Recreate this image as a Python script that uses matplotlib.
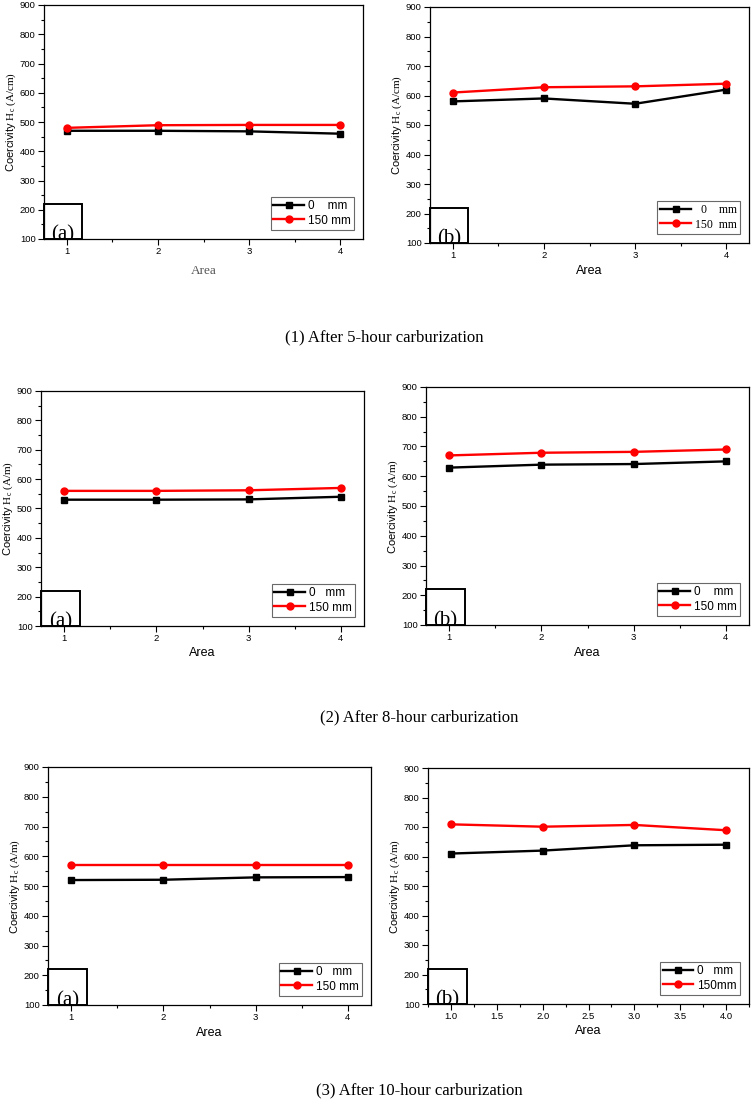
import numpy as np
import matplotlib
matplotlib.use('Agg')
import matplotlib.pyplot as plt
from matplotlib.patches import Rectangle

plt.rcParams['font.family'] = ['Liberation Sans', 'DejaVu Sans']
plt.rcParams['mathtext.fontset'] = 'custom'
plt.rcParams['mathtext.rm'] = 'Liberation Serif'
plt.rcParams['mathtext.it'] = 'Liberation Serif:italic'

areas = [1, 2, 3, 4]

# 5-hour carburization
h5a_0 = [470, 470, 468, 460]
h5a_150 = [480, 489, 490, 490]
h5b_0 = [580, 590, 572, 620]
h5b_150 = [610, 628, 631, 640]
# 8-hour carburization
h8a_0 = [530, 530, 531, 540]
h8a_150 = [560, 560, 562, 570]
h8b_0 = [629, 639, 641, 650]
h8b_150 = [670, 679, 682, 690]
# 10-hour carburization
h10a_0 = [520, 521, 529, 530]
h10a_150 = [570, 570, 570, 570]
h10b_0 = [610, 620, 638, 640]
h10b_150 = [709, 701, 707, 689]

captions = ['(1) After 5-hour carburization',
            '(2) After 8-hour carburization',
            '(3) After 10-hour carburization']

W, H = 754, 1109
fig = plt.figure(figsize=(W/100, H/100), dpi=100)

def px_axes(l, r, t, b):
    return fig.add_axes([l/W, 1-b/H, (r-l)/W, (b-t)/H])

# pixel boxes (left, right, top, bottom) and per-panel styling
panels = [
    dict(box=(44, 363, 5, 239), d0=h5a_0, d150=h5a_150, tag='(a)', unit='A/cm',
         lab0='0    mm', lab150='150 mm', legserif=False, xserif=True, half=False),
    dict(box=(430, 749, 7, 243), d0=h5b_0, d150=h5b_150, tag='(b)', unit='A/cm',
         lab0='  0    mm', lab150='150  mm', legserif=True, xserif=False, half=False),
    dict(box=(41, 364, 391, 626), d0=h8a_0, d150=h8a_150, tag='(a)', unit='A/m',
         lab0='0   mm', lab150='150 mm', legserif=False, xserif=False, half=False),
    dict(box=(426, 749, 387, 625), d0=h8b_0, d150=h8b_150, tag='(b)', unit='A/m',
         lab0='0    mm', lab150='150 mm', legserif=False, xserif=False, half=False),
    dict(box=(48, 371, 767, 1005), d0=h10a_0, d150=h10a_150, tag='(a)', unit='A/m',
         lab0='0   mm', lab150='150 mm', legserif=False, xserif=False, half=False),
    dict(box=(428, 749, 768, 1004), d0=h10b_0, d150=h10b_150, tag='(b)', unit='A/m',
         lab0='0   mm', lab150='150mm', legserif=False, xserif=False, half=True),
]

for p in panels:
    ax = px_axes(*p['box'])
    ax.plot(areas, p['d0'], color='black', marker='s', markersize=4.2, lw=1.7,
            label=p['lab0'])
    ax.plot(areas, p['d150'], color='red', marker='o', markersize=5, lw=1.7,
            label=p['lab150'])
    ax.set_xlim(0.75, 4.25)
    ax.set_ylim(100, 900)
    ax.set_yticks(np.arange(100, 901, 100))
    ax.set_yticks(np.arange(150, 900, 100), minor=True)
    if p['half']:
        ax.set_xticks(np.arange(1.0, 4.01, 0.5))
        ax.set_xticks(np.arange(0.75, 4.26, 0.25), minor=True)
        ax.set_xticklabels(['%.1f' % v for v in np.arange(1.0, 4.01, 0.5)])
    else:
        ax.set_xticks(areas)
        ax.set_xticks([1.5, 2.5, 3.5], minor=True)
    ax.tick_params(which='major', direction='out', length=4, width=0.8,
                   labelsize=6.8, pad=2)
    ax.tick_params(which='minor', direction='out', length=2.5, width=0.8)
    for s in ax.spines.values():
        s.set_linewidth(0.9)
    ax.set_ylabel(r'Coercivity $\mathrm{H_c\ (%s)}$' % p['unit'], fontsize=8,
                  labelpad=1)
    if p['xserif']:
        ax.set_xlabel('Area', fontsize=9.5, family='Liberation Serif',
                      color='#555555', labelpad=6)
    else:
        ax.set_xlabel('Area', fontsize=9, labelpad=3)
    legprops = {'size': 8.5}
    if p['legserif']:
        legprops['family'] = 'Liberation Serif'
    leg = ax.legend(loc='lower right', prop=legprops, frameon=True, fancybox=False,
                    borderpad=0.25, handlelength=2.6, handletextpad=0.3,
                    labelspacing=0.2, borderaxespad=0.8)
    leg.get_frame().set_edgecolor('#444444')
    leg.get_frame().set_linewidth(0.8)
    ax.add_patch(Rectangle((0, 0), 0.12, 0.15, transform=ax.transAxes, fill=False,
                           edgecolor='black', lw=1.4, clip_on=False, zorder=5))
    ax.text(0.06, 0.0, p['tag'], transform=ax.transAxes, ha='center',
            va='baseline', fontsize=15, family='Liberation Serif', clip_on=True,
            zorder=6)

cap_pos = [(384, 337), (419, 717), (419, 1090)]
for txt, (cx, cy) in zip(captions, cap_pos):
    fig.text(cx/W, 1-cy/H, txt, ha='center', va='center', fontsize=12,
             family='Liberation Serif')

fig.savefig('out.png', dpi=100)
